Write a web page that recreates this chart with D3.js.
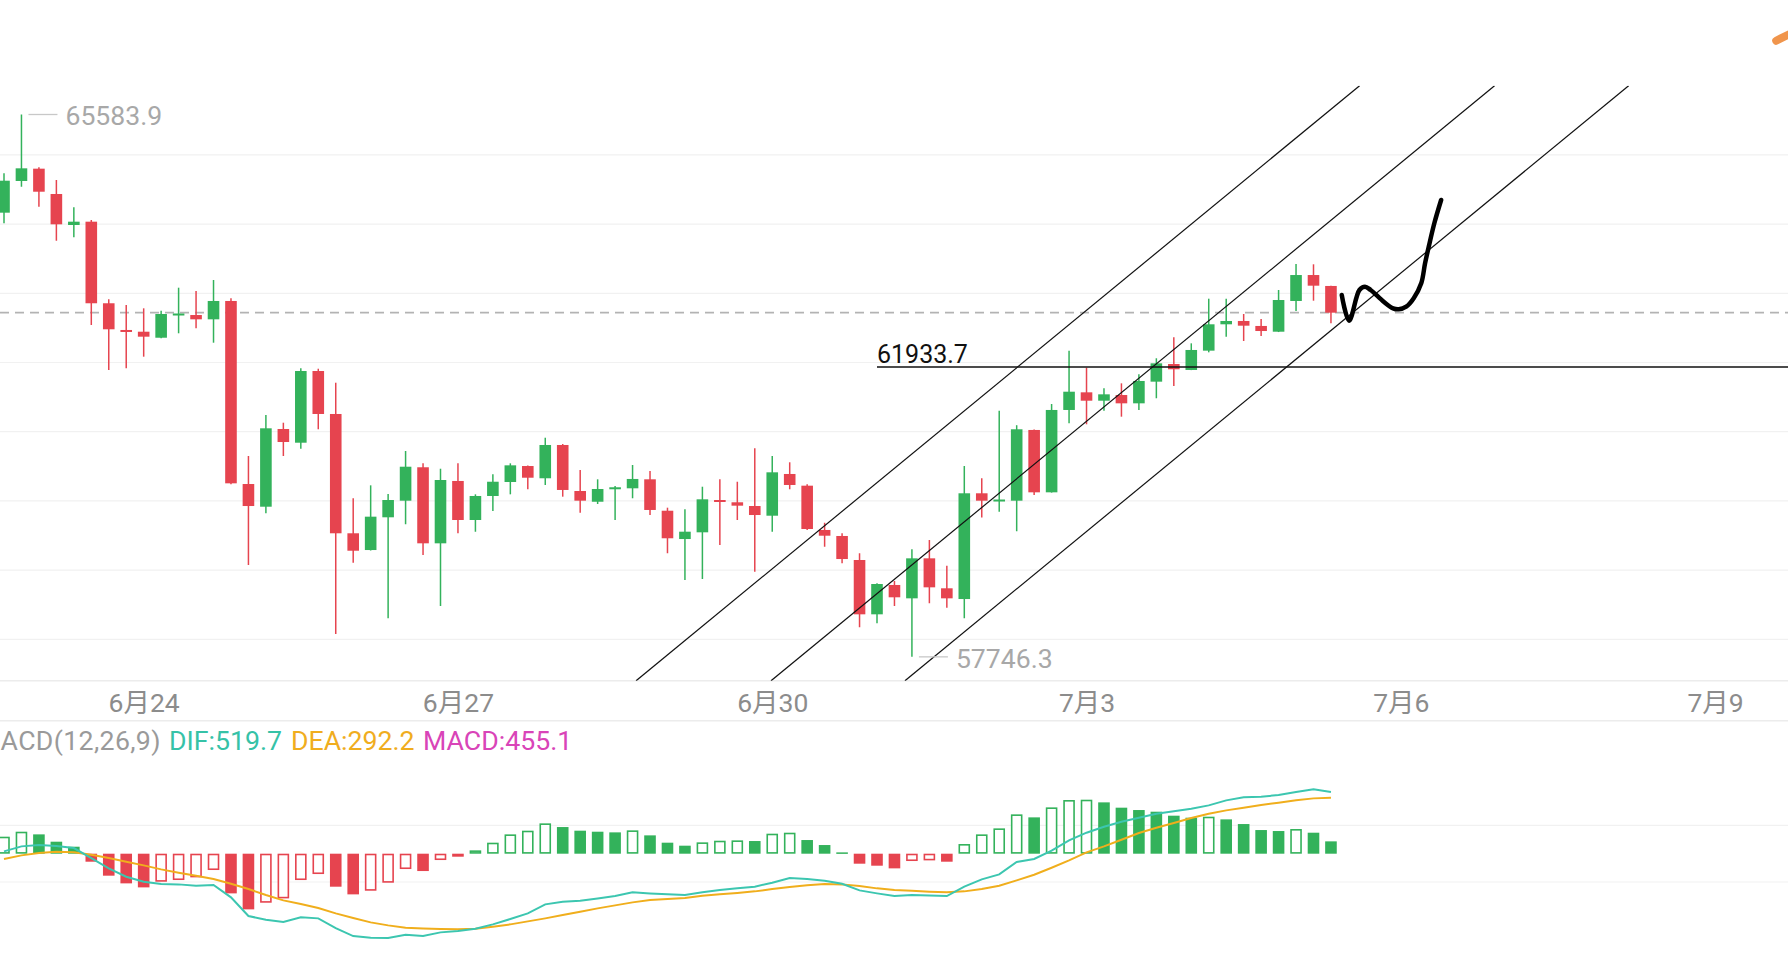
<!DOCTYPE html>
<html><head><meta charset="utf-8">
<script src="https://cdn.jsdelivr.net/npm/d3@7/dist/d3.min.js"></script>
<style>
html,body{margin:0;padding:0;background:#fff;overflow:hidden}
svg{display:block}
text{font-family:Roboto,"Noto Sans CJK SC","Noto Sans",sans-serif}
</style>
</head><body>
<svg id="chart" width="1788" height="956"></svg>
<script>
// ---------- DATA (4h candles) ----------
const open  = [64165,64623,64801,64435,63987,64035,62856,62470,62445,62358,62686,62686,62624,62889,60244,59916,61039,60841,61877,61256,59532,59290,59763,60003,60486,59387,60288,59724,60071,60273,60504,60327,60808,60143,59988,60176,60182,60312,59858,59449,59546,60013,59980,59926,59786,60389,60220,59580,59493,59146,58361,58785,58592,59170,58737,58582,60110,60003,60003,61025,60124,61314,61569,61448,61530,61410,61723,61978,61892,62171,62552,62600,62528,62445,62889,63264,63106];
const high  = [64734,65583.9,64821,64637,64243,64059,62913,62831,62783,62749,63081,63033,63192,62928,60649,61241,61130,61916,61910,61708,60038,60225,60100,60721,60543,60465,60543,60095,60384,60543,60510,60913,60822,60447,60312,60215,60519,60432,59902,59879,60205,60312,60277,60760,60649,60558,60240,59685,59532,59243,58809,58842,59301,59435,59064,60504,60327,61303,61094,61030,61400,62171,61925,61627,61699,61829,62061,62364,62277,62922,62922,62701,62629,63048,63423,63419,63110];
const low   = [64012,64540,64251,63760,63809,62542,61892,61916,62084,62350,62422,62494,62286,60240,59074,59821,60649,60754,61035,58077,59107,59285,58303,59662,59218,58481,59532,59555,59854,60095,60168,60230,60061,59829,59955,59724,60038,59796,59243,58857,58871,59363,59724,58977,59555,60168,59580,59338,59098,58173,58231,58481,57746.3,58520,58457,58303,59760,59844,59561,60085,60120,61121,61107,61303,61217,61314,61483,61660,61890,62147,62373,62311,62383,62440,62744,62893,62566];
const close = [64627,64806,64468,63997,64035,62856,62480,62455,62373,62701,62708,62624,62889,60254,59926,61049,60851,61877,61256,59532,59280,59772,60013,60494,59387,60302,59724,60071,60277,60514,60335,60808,60158,60003,60172,60197,60317,59869,59460,59555,60023,59988,59931,59796,60413,60230,59594,59497,59160,58361,58799,58607,59170,58751,58592,60110,60003,60020,61035,60124,61314,61578,61448,61540,61410,61733,61988,61902,62181,62552,62600,62532,62455,62903,63264,63110,62720];

const dif  = [82,259,306,271,200,-153,-518,-813,-990,-1072,-1084,-1131,-1107,-1543,-2203,-2332,-2415,-2250,-2285,-2627,-2910,-2969,-2980,-2863,-2910,-2780,-2733,-2651,-2497,-2309,-2109,-1791,-1696,-1661,-1579,-1496,-1366,-1402,-1437,-1461,-1366,-1284,-1225,-1166,-1025,-860,-895,-954,-1060,-1296,-1402,-1496,-1461,-1473,-1496,-1166,-907,-730,-295,-188,106,471,742,954,1131,1272,1414,1496,1590,1708,1885,1991,2014,2073,2179,2274,2179];
const dea  = [-188,-59,24,71,47,-35,-153,-283,-412,-554,-671,-777,-895,-1060,-1249,-1461,-1649,-1779,-1920,-2109,-2274,-2427,-2533,-2615,-2639,-2662,-2674,-2651,-2580,-2497,-2391,-2285,-2168,-2050,-1932,-1826,-1720,-1637,-1602,-1567,-1484,-1437,-1390,-1331,-1249,-1178,-1119,-1072,-1084,-1143,-1225,-1284,-1308,-1343,-1366,-1331,-1249,-1131,-942,-742,-495,-236,47,259,495,730,919,1084,1260,1414,1531,1626,1720,1802,1885,1955,1979];
const macd = [601,777,683,424,247,-283,-777,-1048,-1190,-990,-931,-836,-577,-1402,-1967,-1732,-1579,-931,-719,-1166,-1437,-1308,-1025,-542,-613,-224,-106,118,389,683,813,1072,942,813,777,754,825,648,389,283,401,459,471,448,707,742,483,306,47,-353,-424,-518,-259,-236,-283,342,683,895,1390,1284,1637,1897,1908,1814,1626,1543,1484,1343,1272,1308,1213,1048,836,801,872,742,436];

const dateLabels = ["6月24","6月27","6月30","7月3","7月6","7月9"];
const dateTicks  = [8,26,44,62,80,98];          // candle index of each date label
const priceGrid  = [58000,59000,60000,61000,62000,63000,64000,65000];
const macdGrid   = [-1000,1000];
// legend as visible in the screenshot (its first letter is scrolled off the left edge)
const legendTexts = ["ACD(12,26,9)","DIF:519.7","DEA:292.2","MACD:455.1"];

const highMark = {i:1,  price:65583.9, label:"65583.9"};
const lowMark  = {i:52, price:57746.3, label:"57746.3"};
const level    = {from:50, price:61933.7, label:"61933.7"};
// parallel channel lines: [candleIndex, price] endpoints
const channelLines = [
  [[36.20,57400],[77.64,66000]],
  [[43.93,57400],[85.37,66000]],
  [[51.60,57400],[93.05,66000]]
];
// hand-drawn projection stroke: [candleIndex, price]
const sketch = [[76.62,62975],[77.04,62604],[77.63,63048],[77.95,63095],[78.27,63048],[79.02,62879],[79.56,62783],[79.88,62769],[80.31,62806],[80.74,62928],[81.17,63144],[81.39,63434],[81.60,63673],[81.92,64012],[82.31,64348]];
const orangeMark = [[101.5,66650],[102.3,66750]];

// ---------- LAYOUT ----------
const W = 1788, H = 956;
const GREEN = "#33b25b", RED = "#e6444f";
const svg = d3.select("#chart");
svg.append("rect").attr("width",W).attr("height",H).attr("fill","#fff");

const x  = d3.scaleLinear().domain([0,76]).range([4, 4+76*17.46]);
const y  = d3.scaleLinear().domain([57000,66000]).range([708.5,85.7]);
const yM = d3.scaleLinear().domain([-1000,1000]).range([882,825.4]);
const plotTop = y(66000), plotBot = 680.7, bandBot = 720.7;
const bw = 11.6;

svg.append("clipPath").attr("id","plotClip").append("rect")
  .attr("x",0).attr("y",plotTop).attr("width",W).attr("height",plotBot-plotTop);

// gridlines
svg.append("g").selectAll("line").data(priceGrid).join("line")
  .attr("x1",0).attr("x2",W).attr("y1",d=>y(d)).attr("y2",d=>y(d))
  .attr("stroke","#f1f1f1").attr("stroke-width",1.2);
svg.append("g").selectAll("line").data(macdGrid).join("line")
  .attr("x1",0).attr("x2",W).attr("y1",d=>yM(d)).attr("y2",d=>yM(d))
  .attr("stroke","#f1f1f1").attr("stroke-width",1.2);

// axis band
svg.append("g").selectAll("line").data([plotBot,bandBot]).join("line")
  .attr("x1",0).attr("x2",W).attr("y1",d=>d).attr("y2",d=>d)
  .attr("stroke","#ececec").attr("stroke-width",1.5);
const ax = svg.append("g").attr("transform",`translate(0,${plotBot})`)
  .call(d3.axisBottom(x).tickValues(dateTicks).tickFormat((d,i)=>dateLabels[i]).tickSize(0).tickPadding(12.5));
ax.select(".domain").remove();
ax.selectAll("text").attr("font-size",26.5).attr("fill","#8c8c8c")
  .attr("font-family",'Roboto,"Noto Sans CJK SC",sans-serif');

// dashed last price line
svg.append("line").attr("x1",0).attr("x2",W)
  .attr("y1",y(close[close.length-1])).attr("y2",y(close[close.length-1]))
  .attr("stroke","#b3b3b3").attr("stroke-width",1.7).attr("stroke-dasharray","9 6");

// candles
const idx = d3.range(open.length);
const cg = svg.append("g").attr("clip-path","url(#plotClip)");
const cand = cg.selectAll("g.c").data(idx).join("g");
cand.append("line")
  .attr("x1",i=>x(i)).attr("x2",i=>x(i))
  .attr("y1",i=>y(high[i])).attr("y2",i=>y(low[i]))
  .attr("stroke",i=>close[i]>=open[i]?GREEN:RED).attr("stroke-width",1.5);
cand.append("rect")
  .attr("x",i=>x(i)-bw/2).attr("width",bw)
  .attr("y",i=>y(Math.max(open[i],close[i])))
  .attr("height",i=>Math.max(2,Math.abs(y(open[i])-y(close[i]))))
  .attr("fill",i=>close[i]>=open[i]?GREEN:RED);

// channel lines
cg.selectAll("line.ch").data(channelLines).join("line").attr("class","ch")
  .attr("x1",d=>x(d[0][0])).attr("y1",d=>y(d[0][1]))
  .attr("x2",d=>x(d[1][0])).attr("y2",d=>y(d[1][1]))
  .attr("stroke","#111").attr("stroke-width",1.2);

// level line
svg.append("line").attr("x1",x(level.from)).attr("x2",W)
  .attr("y1",y(level.price)).attr("y2",y(level.price))
  .attr("stroke","#111").attr("stroke-width",1.5);
svg.append("text").attr("x",x(level.from)).attr("y",y(level.price)-4.5)
  .attr("font-size",25).attr("fill","#111").text(level.label);

// high / low markers
function marker(m){
  const yy = y(m.price);
  svg.append("line").attr("x1",x(m.i)+7).attr("x2",x(m.i)+36).attr("y1",yy).attr("y2",yy)
    .attr("stroke","#c8c8c8").attr("stroke-width",1.3);
  svg.append("text").attr("x",x(m.i)+44).attr("y",yy+1.5).attr("dominant-baseline","central")
    .attr("font-size",26.6).attr("fill","#a8a8a8").text(m.label);
}
marker(highMark); marker(lowMark);

// hand-drawn sketch
svg.append("path").datum(sketch)
  .attr("d",d3.line().x(d=>x(d[0])).y(d=>y(d[1])).curve(d3.curveCatmullRom.alpha(0.5)))
  .attr("fill","none").attr("stroke","#000").attr("stroke-width",4.5)
  .attr("stroke-linecap","round").attr("stroke-linejoin","round");
svg.append("path").datum(orangeMark)
  .attr("d",d3.line().x(d=>x(d[0])).y(d=>y(d[1])))
  .attr("stroke","#f0954c").attr("stroke-width",8).attr("stroke-linecap","round");

// MACD legend
const legColors = ["#9a9a9a","#36c2a7","#f0ad1e","#d944b8"];
const legX = [0.5,169,291,423];
legendTexts.forEach((t,k)=>{
  const tx = svg.append("text").attr("x",legX[k]).attr("y",741).attr("dominant-baseline","central")
    .attr("font-size",26.7).attr("fill",legColors[k]).text(t);
  if(k===0) tx.attr("textLength",160).attr("lengthAdjust","spacing");
});

// MACD histogram
const z0 = yM(0);
const hg = svg.append("g");
idx.forEach(i=>{
  const v = macd[i];
  const col = v>=0?GREEN:RED;
  const rising = i===0 ? true : v>macd[i-1];
  const top = Math.min(yM(v),z0), h = Math.max(1.5,Math.abs(yM(v)-z0));
  if(rising){
    hg.append("rect").attr("x",x(i)-bw/2+0.8).attr("y",top+0.8)
      .attr("width",bw-1.6).attr("height",Math.max(0.5,h-1.6))
      .attr("fill","#fff").attr("stroke",col).attr("stroke-width",1.6);
  } else {
    hg.append("rect").attr("x",x(i)-bw/2).attr("y",top)
      .attr("width",bw).attr("height",h).attr("fill",col);
  }
});
// DIF / DEA lines
const lineM = d3.line().x((d,i)=>x(i)).y(d=>yM(d));
svg.append("path").datum(dea).attr("d",lineM).attr("fill","none")
  .attr("stroke","#f0ae1c").attr("stroke-width",2);
svg.append("path").datum(dif).attr("d",lineM).attr("fill","none")
  .attr("stroke","#3cc6b0").attr("stroke-width",2);
</script>
</body></html>
